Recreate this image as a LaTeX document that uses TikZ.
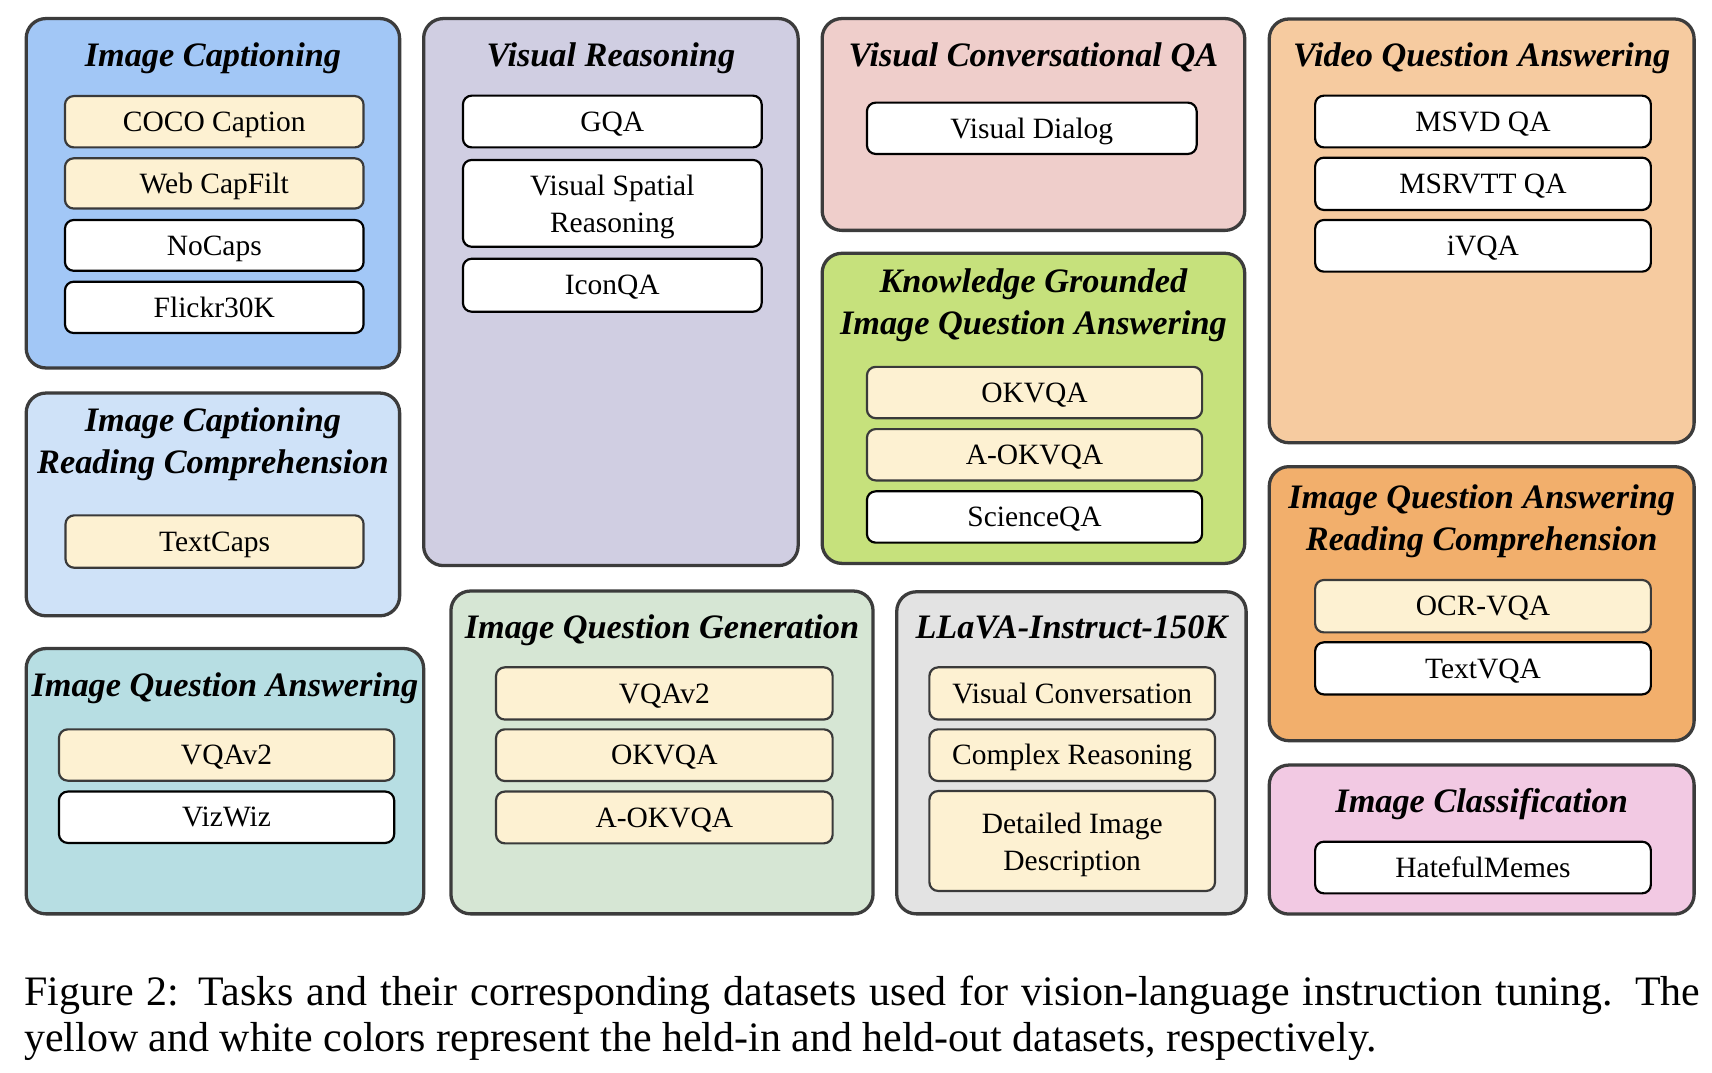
\documentclass[tikz,border=0pt]{standalone}
\usepackage{fontspec}
\setmainfont{Liberation Serif}
\definecolor{outline}{HTML}{3C3C3C}
\definecolor{heldinc}{HTML}{FDF1D2}
\definecolor{heldinb}{HTML}{3A3A3A}
\definecolor{cIC}{HTML}{A2C7F6}
\definecolor{cVR}{HTML}{D0CEE2}
\definecolor{cVCQA}{HTML}{EFCECB}
\definecolor{cKG}{HTML}{C6E17C}
\definecolor{cVQA}{HTML}{F6CBA0}
\definecolor{cICRC}{HTML}{CFE2F8}
\definecolor{cIQA}{HTML}{B7DEE3}
\definecolor{cIQG}{HTML}{D6E6D4}
\definecolor{cLL}{HTML}{E3E3E3}
\definecolor{cIQARC}{HTML}{F2AF6C}
\definecolor{cCLS}{HTML}{F2C9E3}
\tikzset{
  outerbox/.style={draw=outline, line width=3pt, rounded corners=18pt, inner sep=0pt},
  ttl/.style={font=\fontsize{31.4}{38}\selectfont\bfseries\itshape, inner sep=0pt, anchor=base},
  itembase/.style={line width=2pt, rounded corners=8pt, inner sep=0pt,
    font=\fontsize{27}{34}\selectfont, align=center},
  heldin/.style={itembase, fill=heldinc, draw=heldinb, text height=17.8pt, text depth=0pt},
  heldout/.style={itembase, fill=white, draw=black, text height=17.8pt, text depth=0pt},
  heldintwo/.style={itembase, fill=heldinc, draw=heldinb},
  heldouttwo/.style={itembase, fill=white, draw=black},
  captxt/.style={font=\fontsize{38.4}{42}\selectfont, inner sep=0pt, anchor=base west},
}
\newcommand\obox[6]{\node[outerbox, fill=#6, minimum width={(#4-#2)*1pt}, minimum height={(#5-#3)*1pt}] (#1) at ({(#2+#4)/2},{(#3+#5)/2}) {};}
\newcommand\ibox[7]{\node[#6, minimum width={(#4-#2)*1pt}, minimum height={(#5-#3)*1pt}] (#1) at ({(#2+#4)/2},{(#3+#5)/2}) {#7};}
\newcommand\topstrut{\rule{0pt}{25.5pt}}
\begin{document}
\begin{tikzpicture}[x=1pt,y=-1pt]
\useasboundingbox (0,0) rectangle (1568,982);
\fill[white] (0,0) rectangle (1568,982);

% Image Captioning
\obox{ic}{24}{17}{366}{337}{cIC}
\node[ttl] (ict) at (195,61) {Image Captioning};
\ibox{coco}{59.5}{88}{333}{135}{heldin}{COCO Caption}
\ibox{webcap}{59.5}{145}{333}{191}{heldin}{Web CapFilt}
\ibox{nocaps}{59.5}{201.5}{333}{248}{heldout}{NoCaps}
\ibox{flickr}{59.5}{258}{333}{305}{heldout}{Flickr30K}

% Visual Reasoning
\obox{vr}{388}{17}{731}{518}{cVR}
\node[ttl] (vrt) at (559.5,61) {Visual Reasoning};
\ibox{gqa}{424}{87.6}{697.6}{135}{heldout}{GQA}
\ibox{vsr}{424}{146.5}{697.6}{226}{heldouttwo}{\topstrut Visual Spatial\\Reasoning}
\ibox{iconqa}{424}{237}{697.6}{285.5}{heldout}{IconQA}

% Visual Conversational QA
\obox{vcqa}{753}{17}{1140}{211}{cVCQA}
\node[ttl] (vcqat) at (946.5,61) {Visual Conversational QA};
\ibox{vdialog}{794}{94}{1096}{141}{heldout}{Visual Dialog}

% Knowledge Grounded IQA
\obox{kg}{753}{232}{1140}{516}{cKG}
\node[ttl] (kgt1) at (946.5,268) {Knowledge Grounded};
\node[ttl] (kgt2) at (946.5,306.5) {Image Question Answering};
\ibox{okvqa}{794}{336}{1101}{383}{heldin}{OKVQA}
\ibox{aokvqa}{794}{393}{1101}{440}{heldin}{A-OKVQA}
\ibox{sciqa}{794}{450}{1101}{497}{heldout}{ScienceQA}

% Video Question Answering
\obox{vqa}{1162.5}{17.4}{1551.6}{405.5}{cVQA}
\node[ttl] (vqat) at (1357,61) {Video Question Answering};
\ibox{msvd}{1204.5}{87.6}{1512}{135}{heldout}{MSVD QA}
\ibox{msrvtt}{1204.5}{144.4}{1512}{192.3}{heldout}{MSRVTT QA}
\ibox{ivqa}{1204.5}{201.5}{1512}{248.8}{heldout}{iVQA}

% Image Captioning Reading Comprehension
\obox{icrc}{24}{360}{366}{564}{cICRC}
\node[ttl] (icrct1) at (195,395.5) {Image Captioning};
\node[ttl] (icrct2) at (195,434) {Reading Comprehension};
\ibox{textcaps}{60}{472}{333}{520}{heldin}{TextCaps}

% Image Question Answering
\obox{iqa}{24}{594}{388}{837}{cIQA}
\node[ttl] (iqat) at (206,637.5) {Image Question Answering};
\ibox{vqav2a}{54}{668}{361}{715}{heldin}{VQAv2}
\ibox{vizwiz}{54}{725}{361}{772}{heldout}{VizWiz}

% Image Question Generation
\obox{iqg}{413}{541.3}{799.6}{837}{cIQG}
\node[ttl] (iqgt) at (606.3,585) {Image Question Generation};
\ibox{vqav2b}{454.3}{611.2}{762.6}{659}{heldin}{VQAv2}
\ibox{okvqab}{454.3}{668}{762.6}{715.3}{heldin}{OKVQA}
\ibox{aokvqab}{454.3}{725}{762.6}{772.4}{heldin}{A-OKVQA}

% LLaVA-Instruct-150K
\obox{llava}{821.3}{542}{1141.3}{837}{cLL}
\node[ttl] (llavat) at (981.3,585) {LLaVA-Instruct-150K};
\ibox{visconv}{851.2}{611.2}{1112.8}{659}{heldin}{Visual Conversation}
\ibox{complex}{851.2}{668}{1112.8}{715.3}{heldin}{Complex Reasoning}
\ibox{detailed}{851.2}{724.5}{1112.8}{816}{heldintwo}{\topstrut Detailed Image\\Description}

% Image Question Answering Reading Comprehension
\obox{iqarc}{1162.5}{427.4}{1551.6}{678.4}{cIQARC}
\node[ttl] (iqarct1) at (1357,466) {Image Question Answering};
\node[ttl] (iqarct2) at (1357,504) {Reading Comprehension};
\ibox{ocrvqa}{1204.5}{531.2}{1512}{579.2}{heldin}{OCR-VQA}
\ibox{textvqa}{1204.5}{588.3}{1512}{636}{heldout}{TextVQA}

% Image Classification
\obox{cls}{1162.5}{700.7}{1551.6}{837.2}{cCLS}
\node[ttl] (clst) at (1357,744) {Image Classification};
\ibox{hateful}{1204.5}{770.9}{1512}{818.2}{heldout}{HatefulMemes}

% Caption
\node[captxt] (cap1) at (22,921) {\makebox[1535pt][s]{Figure 2: Tasks and their corresponding datasets used for vision-language instruction tuning. The}};
\node[captxt] (cap2) at (22,963) {yellow and white colors represent the held-in and held-out datasets, respectively.};
\end{tikzpicture}
\end{document}
